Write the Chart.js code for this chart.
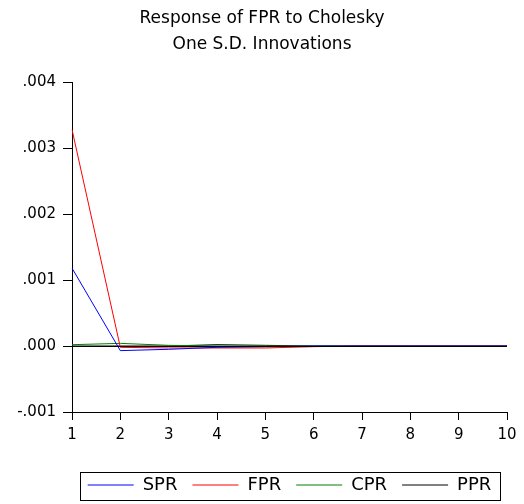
<!DOCTYPE html>
<html>
<head>
<meta charset="utf-8">
<script src="https://cdn.jsdelivr.net/npm/chart.js@4"></script>
<style>
  html, body { margin: 0; padding: 0; background: #fff; }
  #wrap { width: 524px; height: 504px; }
</style>
</head>
<body>
<div id="wrap"><canvas id="irfChart" width="524" height="504"></canvas></div>
<script>
const periods = ["1", "2", "3", "4", "5", "6", "7", "8", "9", "10"];
const sprValues = [0.00118, -0.00007, -0.00005, -0.00002, -0.00001, 0, 0, 0, 0, 0];
const fprValues = [0.00328, -0.00002, -0.00003, -0.00003, -0.00003, -0.00001, 0, 0, 0, 0];
const cprValues = [0.00002, 0.00004, 0.00001, 0, 0, 0, 0, 0, 0, 0];
const pprValues = [0, 0, 0, 0.00002, 0.00001, 0, 0, 0, 0, 0];
const yTicks = [-0.001, 0, 0.001, 0.002, 0.003, 0.004];

const font = "'DejaVu Sans', Verdana, sans-serif";

function fmt(v) {
  if (Math.abs(v) < 1e-9) return '.000';
  return (v < 0 ? '-' : '') + Math.abs(v).toFixed(3).replace(/^0/, '');
}

// title centred on the whole canvas, legend centred under the plot area, boxed;
// zero line drawn over the series
const layoutTweaks = {
  id: 'layoutTweaks',
  afterLayout(chart) {
    const t = chart.titleBlock;
    const tdx = chart.width / 2 - (t.left + t.right) / 2;
    t.left += tdx;
    t.right += tdx;

    const lg = chart.legend;
    const area = chart.chartArea;
    const dx = (area.left + area.right) / 2 - (lg.left + lg.right) / 2;
    lg.left += dx;
    lg.right += dx;
    lg.legendHitBoxes.forEach(b => { b.left += dx; });
  },
  afterDatasetsDraw(chart) {
    const ctx = chart.ctx;
    const area = chart.chartArea;
    const y0 = Math.round(chart.scales.y.getPixelForValue(0)) + 0.5;
    ctx.save();
    ctx.strokeStyle = '#000';
    ctx.lineWidth = 1;
    ctx.beginPath();
    ctx.moveTo(area.left, y0);
    ctx.lineTo(area.right, y0);
    ctx.stroke();
    ctx.restore();
  },
  afterDraw(chart) {
    const boxes = chart.legend.legendHitBoxes;
    if (!boxes.length) return;
    const first = boxes[0], last = boxes[boxes.length - 1];
    const ctx = chart.ctx;
    ctx.save();
    ctx.strokeStyle = '#000';
    ctx.lineWidth = 1;
    ctx.strokeRect(Math.round(first.left - 8) + 0.5, Math.round(first.top - 4) + 0.5,
      Math.round(last.left + last.width - first.left + 16), Math.round(first.height + 10));
    ctx.restore();
  }
};

function series(label, values, color) {
  return {
    label: label,
    data: values,
    borderColor: color,
    backgroundColor: color,
    pointBorderColor: color,
    pointBackgroundColor: color,
    borderWidth: 1,
    pointRadius: 0,
    tension: 0,
    fill: false
  };
}

new Chart(document.getElementById('irfChart'), {
  type: 'line',
  data: {
    labels: periods,
    datasets: [
      series('SPR', sprValues, '#0000ff'),
      series('FPR', fprValues, '#ff0000'),
      series('CPR', cprValues, '#008000'),
      series('PPR', pprValues, '#000000')
    ]
  },
  options: {
    responsive: false,
    animation: false,
    layout: { padding: { top: 6, right: 17, bottom: 0, left: 0 } },
    plugins: {
      title: {
        display: true,
        text: ['Response of FPR to Cholesky', 'One S.D. Innovations'],
        color: '#000',
        font: { family: font, size: 17, weight: 'normal', lineHeight: 1.5 },
        padding: { top: 0, bottom: 25 }
      },
      legend: {
        position: 'bottom',
        labels: {
          color: '#000',
          font: { family: font, size: 18 },
          usePointStyle: true,
          pointStyle: 'line',
          pointStyleWidth: 46,
          padding: 15
        }
      },
      tooltip: { enabled: false }
    },
    scales: {
      x: {
        type: 'category',
        offset: false,
        border: { color: '#000', width: 1 },
        grid: { drawOnChartArea: false, tickColor: '#000', tickLength: 8 },
        ticks: { color: '#000', font: { family: font, size: 15 }, padding: 6, maxRotation: 0 },
        afterFit(scale) { scale.height = 49; }
      },
      y: {
        min: yTicks[0],
        max: yTicks[yTicks.length - 1],
        border: { color: '#000', width: 1 },
        grid: { drawOnChartArea: false, tickColor: '#000', tickLength: 9 },
        afterBuildTicks(scale) { scale.ticks = yTicks.map(v => ({ value: v })); },
        ticks: { color: '#000', font: { family: font, size: 15 }, padding: 7, callback: v => fmt(v) },
        afterFit(scale) { scale.width = 72; }
      }
    }
  },
  plugins: [layoutTweaks]
});
</script>
</body>
</html>
